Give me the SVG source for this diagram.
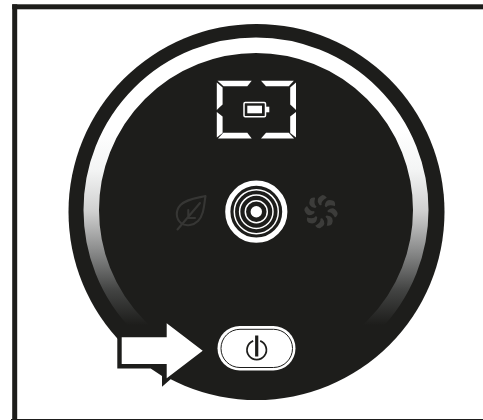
<svg xmlns="http://www.w3.org/2000/svg" width="483" height="420" viewBox="0 0 483 420">
<style>
.dark{fill:#1d1d1b}
.seg{fill:#fff}
.faint{fill:none;stroke:#363634;stroke-width:2.1;stroke-linecap:round;stroke-linejoin:round}
.ring{fill:none;stroke:#fff;stroke-width:1.5}
</style>
<defs>
<linearGradient id="fade" gradientUnits="userSpaceOnUse" x1="0" y1="130" x2="0" y2="325">
<stop offset="0" stop-color="#fff"/>
<stop offset="0.2" stop-color="#f4f5f5"/>
<stop offset="0.42" stop-color="#cfcfcf"/>
<stop offset="0.62" stop-color="#8a8b8b"/>
<stop offset="0.82" stop-color="#434443"/>
<stop offset="1" stop-color="#1d1d1b"/>
</linearGradient>
<path id="blade" d="M1,-16.5 Q-6.5,-13 -1.5,-6.8 Q-0.3,-6 0.6,-7 Q-0.5,-10.5 5.8,-14 Q3.5,-17.2 1,-16.5 Z" fill="#3c3c3a"/>
</defs>
<rect width="483" height="420" fill="#fff"/>
<g id="frame" class="dark">
<rect x="12.2" y="4.3" width="470.8" height="5"/>
<rect x="12.2" y="4.3" width="5" height="415"/>
<rect x="11" y="419" width="472" height="1"/>
</g>
<g id="dial">
<circle class="dark" cx="256.5" cy="212" r="188"/>
<circle cx="256" cy="210" r="164.75" fill="none" stroke="url(#fade)" stroke-width="15.5"/>
</g>
<g id="display">
<path class="seg" d="M217.5,80.8 H251.7 L247.3,86.3 H223.5 Z"/>
<path class="seg" d="M261,80.8 H293.8 L288.8,86.3 H266 Z"/>
<path class="seg" d="M216.8,82.5 L222.6,87.5 V104.5 L218.8,108 L216.8,110 Z"/>
<path class="seg" d="M296,82.5 L290.2,87.5 V104.5 L294,108 L296,110 Z"/>
<path class="seg" d="M216.8,112 L222.6,116.5 V133 L216.8,137.5 Z"/>
<path class="seg" d="M296,112 L290.2,116.5 V133 L296,137.5 Z"/>
<path class="seg" d="M218,138.5 L223.3,132.7 H247.3 L251.7,138.5 Z"/>
<path class="seg" d="M261,138.5 L266,132.7 H288.8 L294,138.5 Z"/>
<rect x="244" y="102.5" width="21.5" height="14.2" rx="1.2" fill="none" stroke="#fff" stroke-width="1.5"/>
<rect x="247.3" y="105.7" width="14.7" height="7.6" fill="#fff"/>
<rect x="266" y="106.7" width="3.3" height="5.6" fill="#fff"/>
</g>
<g id="leaf">
<path class="faint" d="M205.5,196 C197,198 186,199 180.5,205 C175,211 176,219 181,223 C186,227 194,225 198,221 C204,215 204,205 205.5,196 Z"/>
<path class="faint" d="M177.5,229.5 L200,203 M188.3,210 V218 H195"/>
</g>
<g id="target">
<circle cx="256.3" cy="211.7" r="28.5" fill="none" stroke="#fff" stroke-width="5.2"/>
<circle class="ring" cx="256.3" cy="211.7" r="22"/>
<circle class="ring" cx="256.3" cy="211.7" r="16.7"/>
<circle class="ring" cx="256.3" cy="211.7" r="11"/>
<circle cx="256.3" cy="211.7" r="5.7" fill="#fff"/>
</g>
<g id="fan">
<use href="#blade" transform="translate(321,211.7)"/>
<use href="#blade" transform="translate(321,211.7) rotate(45)"/>
<use href="#blade" transform="translate(321,211.7) rotate(90)"/>
<use href="#blade" transform="translate(321,211.7) rotate(135)"/>
<use href="#blade" transform="translate(321,211.7) rotate(180)"/>
<use href="#blade" transform="translate(321,211.7) rotate(225)"/>
<use href="#blade" transform="translate(321,211.7) rotate(270)"/>
<use href="#blade" transform="translate(321,211.7) rotate(315)"/>
</g>
<g id="power">
<rect x="217.5" y="326" width="78" height="44.5" rx="22.25" fill="#fff"/>
<rect x="221" y="329.3" width="71.5" height="38.2" rx="19" fill="#fff" stroke="#1d1d1b" stroke-width="1"/>
<path d="M253.2,340.8 A9.7,9.7 0 1 0 260.2,340.8" fill="none" stroke="#1d1d1b" stroke-width="1.8"/>
<rect x="255.1" y="335.5" width="3.2" height="21" fill="#1d1d1b"/>
</g>
<g id="arrow">
<path class="dark" d="M117.3,335 V368.5 H150.7 L162,376 V386.7 L172,378 V350 L130,335 Z"/>
<path fill="#fff" d="M121.7,337.3 H166.7 V323.3 L202.7,350.7 L166.7,378.3 V364 H121.7 Z"/>
</g>
</svg>
